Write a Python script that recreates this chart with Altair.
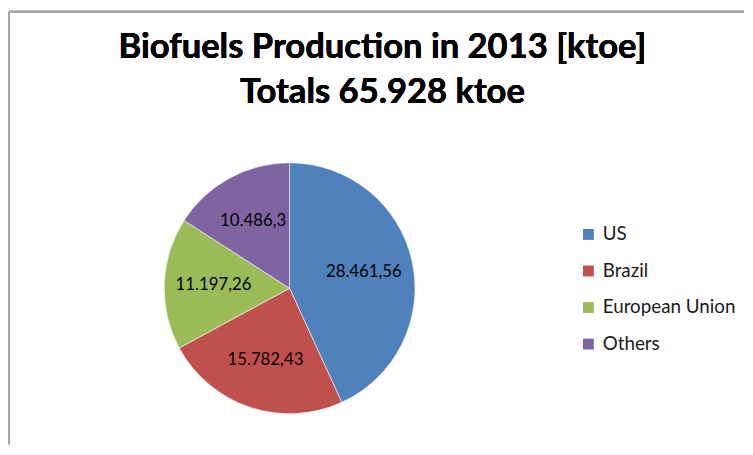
import altair as alt
import pandas as pd

categories = ["US", "Brazil", "European Union", "Others"]
values = [28461.56, 15782.43, 11197.26, 10486.3]
labels = ["28.461,56", "15.782,43", "11.197,26", "10.486,3"]
colors = ["#4F81BD", "#C0504D", "#9BBB59", "#8064A2"]
title_lines = ["Biofuels Production in 2013 [ktoe]", "Totals 65.928 ktoe"]

df = pd.DataFrame({
    "category": categories,
    "value": values,
    "label": labels,
    "idx": list(range(len(categories))),
})

# the frame rules define the top-left bound of the drawing
LX, TY = -5, -111
W, H = 739, 327
CX, CY = 279, 169

color_scale = alt.Scale(domain=categories, range=colors)

base = alt.Chart(df).encode(
    theta=alt.Theta("value:Q", stack=True),
    order=alt.Order("idx:O"),
)

pie = base.mark_arc(outerRadius=127, stroke="white", strokeWidth=0.6).encode(
    x=alt.value(CX), y=alt.value(CY),
    color=alt.Color(
        "category:N", scale=color_scale, sort=categories,
        legend=alt.Legend(
            title=None, orient="none", legendX=572, legendY=105, padding=0,
            symbolType="square", symbolSize=121, symbolStrokeWidth=0,
            labelFont="Lato", labelFontSize=19, labelColor="#1a1a1a",
            rowPadding=17, labelOffset=5, labelLimit=300,
        ),
    ),
)

text = base.mark_text(radius=77, font="Lato", fontSize=17, color="black").encode(
    x=alt.value(CX), y=alt.value(CY), text="label:N"
)

title = alt.Chart(df).mark_text(
    text=title_lines, font="Lato", fontSize=35, fontWeight="bold",
    color="black", align="center", baseline="alphabetic", lineHeight=45,
).encode(x=alt.value(373), y=alt.value(-64))

border_left = alt.Chart(df).mark_rule(color="#a6a6a6", strokeWidth=2).encode(
    x=alt.value(LX), y=alt.value(TY), y2=alt.value(H)
)
border_top = alt.Chart(df).mark_rule(color="#a6a6a6", strokeWidth=2).encode(
    y=alt.value(TY), x=alt.value(LX), x2=alt.value(W)
)

chart = alt.layer(pie, text, title, border_left, border_top).properties(
    width=W, height=H,
    padding={"left": 0, "top": 0, "right": 0, "bottom": 0},
).configure_view(stroke=None)

chart.save("out.html", embed_options={"renderer": "svg", "actions": False})
